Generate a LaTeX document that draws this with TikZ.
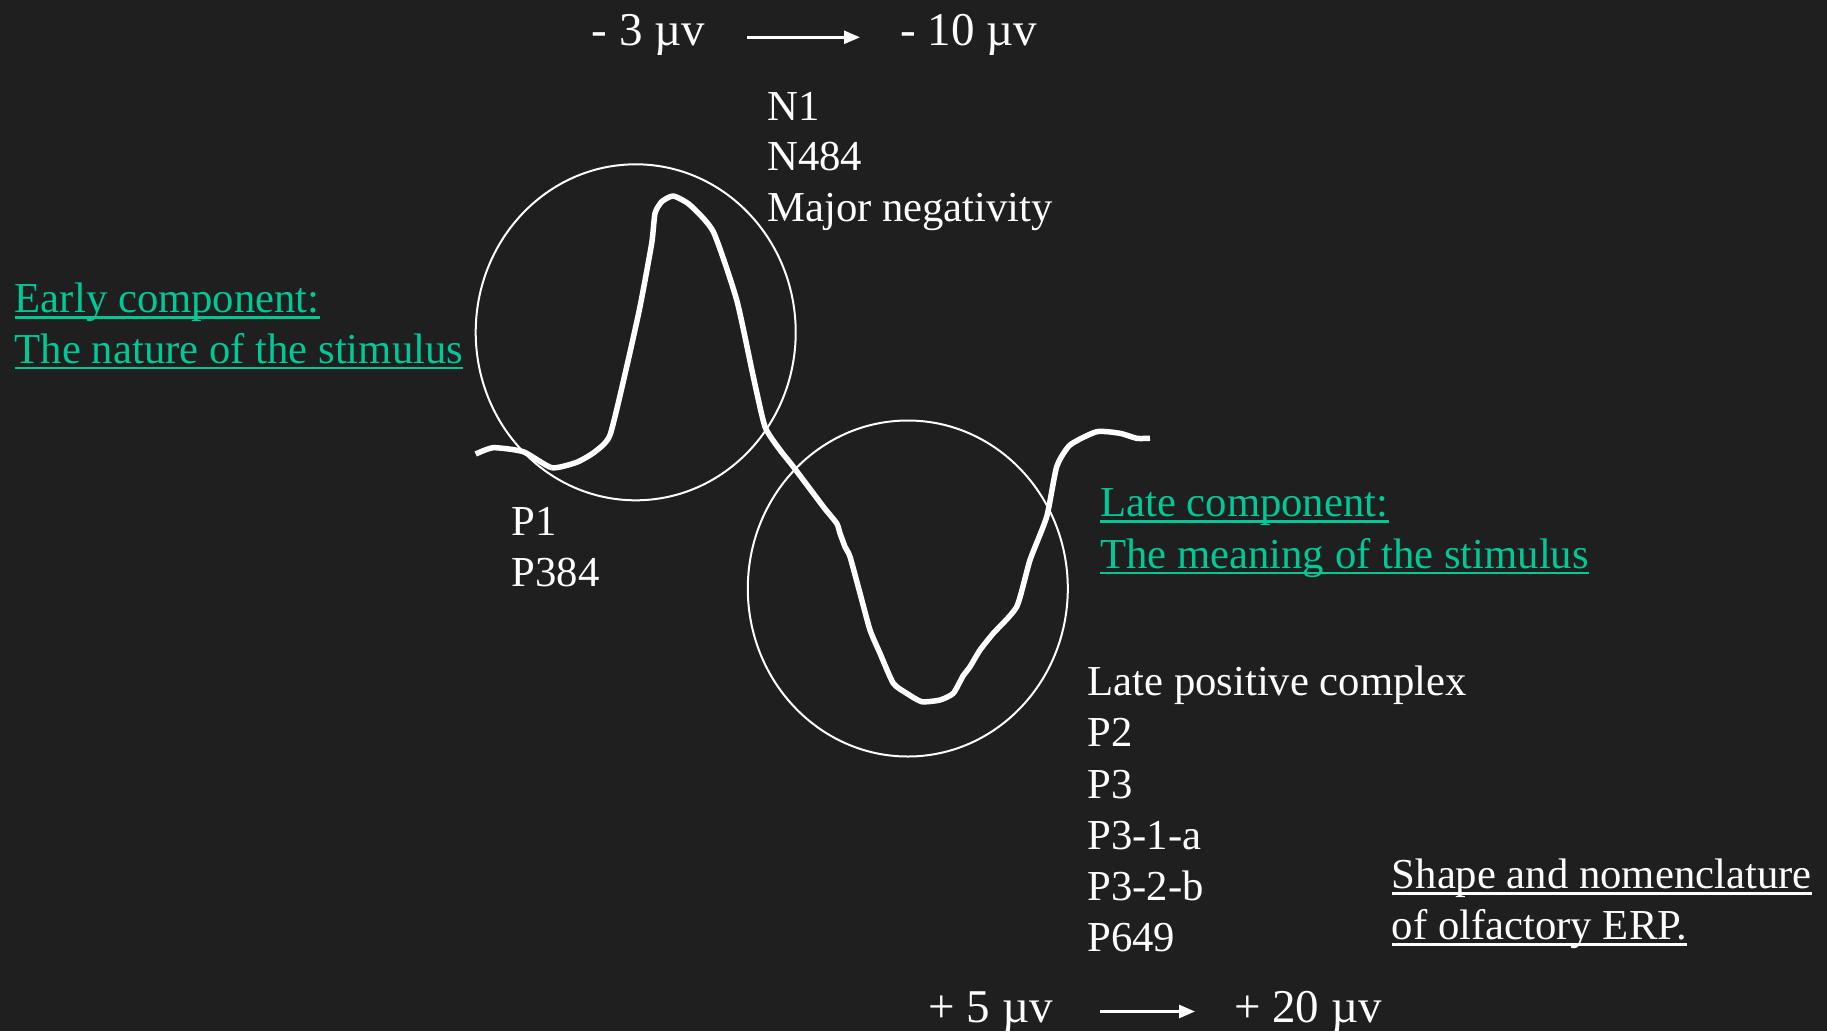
\documentclass[tikz,border=0pt]{standalone}
\usepackage{fontspec}
\setmainfont{Liberation Serif}
\usetikzlibrary{arrows.meta}
\definecolor{bg}{HTML}{1F1F1F}
\definecolor{mint}{HTML}{00C896}
\begin{document}
\begin{tikzpicture}[x=1pt,y=-1pt,>={Triangle[length=16pt,width=13pt]},
  every node/.style={inner sep=0pt,anchor=base west,text=white,font=\fontsize{42.7pt}{51pt}\selectfont},
  big/.style={font=\fontsize{47pt}{56pt}\selectfont},
  grn/.style={text=mint},
  a/.style={->,draw=white,line width=2.5pt},
  ul/.style={draw=#1,line width=2.5pt},
  ring/.style={draw=white,line width=2pt},
  wave/.style={draw=white,line width=5.5pt,line join=round}]
\fill[bg] (0,0) rectangle (1827,1031);
\useasboundingbox (0,0) rectangle (1827,1031);
% scale labels
\node[big] (m3) at (591.7,45) {- 3 µv};\node[big] (m10) at (900,45) {- 10 µv};
\node[big] (p5) at (928.3,1022) {+ 5 µv};\node[big] (p20) at (1234,1022) {+ 20 µv};
\draw[a] ([shift={(42,-7.7)}]m3.base east)--([shift={(-40,-7.7)}]m10.base west);
\draw[a] ([shift={(47,-10.5)}]p5.base east)--([shift={(-39,-10.5)}]p20.base west);
% components
\draw[ring] (635.7,332.3) ellipse [x radius=160pt,y radius=168pt];
\draw[ring] (907.8,588.5) ellipse [x radius=160pt,y radius=168pt];
\draw[wave] plot[smooth,tension=0.35] coordinates {(475.7,454) (493.3,447.7) (523.3,451.7) (551.7,467.7) (576.7,462.3) (595,451.7) (610,435) (626.7,366.7) (640,306.7) (651.7,243.3) (655,213.3) (661.7,201.7) (673.3,196) (690,205) (713.3,231.7) (736.7,300) (753.3,376.7) (765,426.7) (780,450) (793.3,466.7) (823.3,506.7) (836.7,523.3) (840,533.3) (845,546.7) (850,556.7) (860,593.3) (870,630) (880,653.3) (893.3,683.3) (906.7,693.3) (921.7,701.7) (940,700) (953.3,693.3) (963,676) (970,666.7) (980,650) (993.3,633.3) (1016.7,606.7) (1030,560) (1046.7,516.7) (1056.7,466.7) (1070,445) (1096.7,431.7) (1120,433.3) (1136.7,438.3) (1150,438.3)};
% labels
\node (n1) at (767,120) {N1};\node (n484) at (767,170.5) {N484};\node (neg) at (767,221.5) {Major negativity};
\node (p1) at (511.7,535) {P1};\node (p384) at (511.7,586) {P384};
\node (lpc) at (1087.3,695.7) {Late positive complex};\node (p2) at (1087.3,746.9) {P2};\node (p3) at (1087.3,798.1) {P3};
\node (p31a) at (1087.3,849.3) {P3-1-a};\node (p32b) at (1087.3,900.5) {P3-2-b};\node (p649) at (1087.3,951.7) {P649};
\node[grn] (early) at (14.7,312.7) {Early component:};\node[grn] (nature) at (14.7,363) {The nature of the stimulus};
\node[grn] (late) at (1100,516.7) {Late component:};\node[grn] (meaning) at (1100,568) {The meaning of the stimulus};
\node (shape) at (1391.7,888.3) {Shape and nomenclature};\node (olf) at (1391.7,939.3) {of olfactory ERP.};
\foreach \t in {early,nature,late,meaning}{\draw[ul=mint] ([yshift=-5pt]\t.base west)--([yshift=-5pt]\t.base east);}
\foreach \t in {shape,olf}{\draw[ul=white] ([yshift=-5pt]\t.base west)--([yshift=-5pt]\t.base east);}
\end{tikzpicture}
\end{document}
